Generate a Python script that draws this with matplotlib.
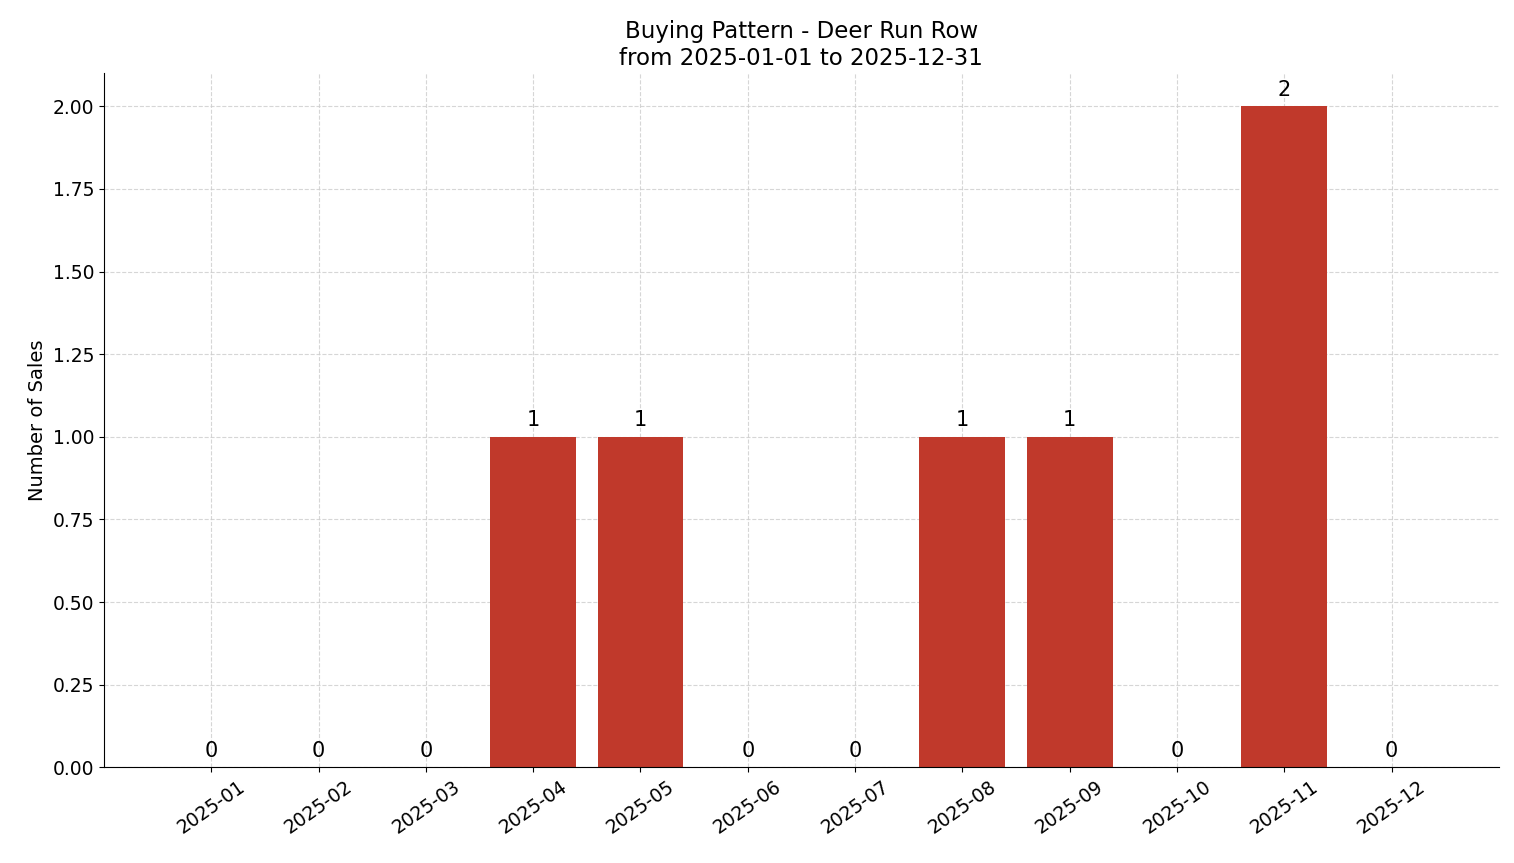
import matplotlib
matplotlib.use("Agg")
import matplotlib.pyplot as plt

months = ["2025-01","2025-02","2025-03","2025-04","2025-05","2025-06",
          "2025-07","2025-08","2025-09","2025-10","2025-11","2025-12"]
sales = [0,0,0,1,1,0,0,1,1,0,2,0]

fig, ax = plt.subplots(figsize=(15.14, 8.63), dpi=100)
fig.subplots_adjust(left=0.0687, right=0.990, top=0.915, bottom=0.111)
x = list(range(len(months)))
bars = ax.bar(x, sales, width=0.8, color="#c0392b", zorder=2)
for xi, v in zip(x, sales):
    ax.text(xi, v + 0.02, str(v), ha="center", va="bottom", fontsize=15)
ax.set_xticks(x)
ax.set_xticklabels(months, rotation=35, fontsize=13.5)
ax.tick_params(axis="y", labelsize=13.5)
ax.set_xlim(-1, 12)
ax.set_ylim(0, 2.1)
ax.set_ylabel("Number of Sales", fontsize=14)
ax.set_title("Buying Pattern - Deer Run Row\nfrom 2025-01-01 to 2025-12-31", fontsize=16.5)
ax.grid(True, linestyle="--", color="#cccccc", alpha=0.8, linewidth=0.8, zorder=0)
ax.spines["top"].set_visible(False)
ax.spines["right"].set_visible(False)
fig.savefig("out.png")
